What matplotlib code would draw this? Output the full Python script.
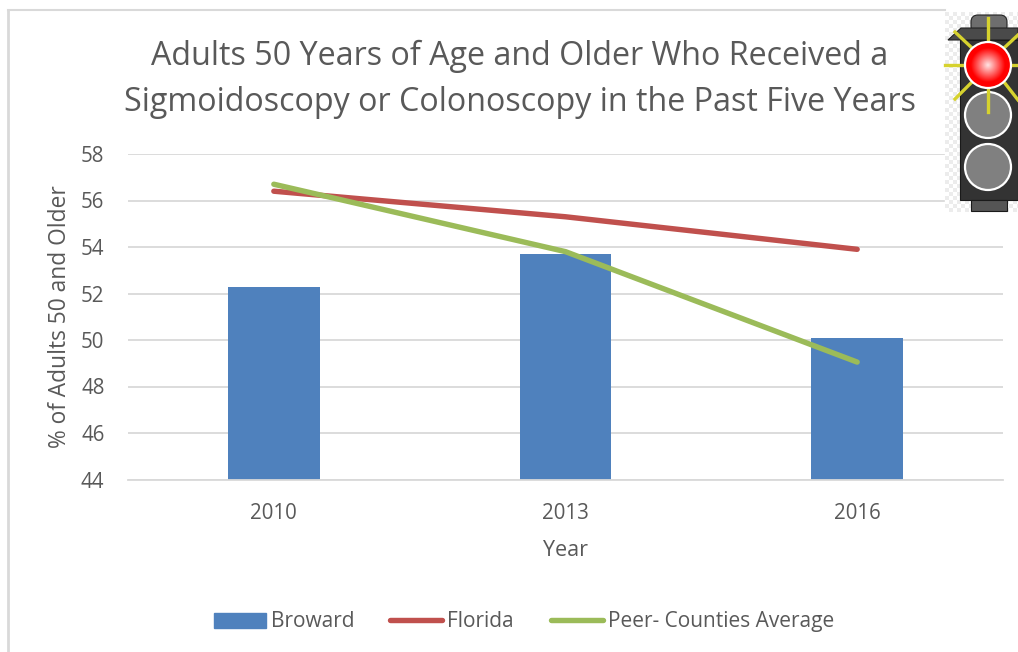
import matplotlib
matplotlib.use('Agg')
import matplotlib.pyplot as plt
from matplotlib.patches import Circle, Rectangle, Polygon, FancyBboxPatch
from matplotlib.lines import Line2D
import numpy as np

years = ['2010', '2013', '2016']
broward = [52.3, 53.7, 50.1]
florida = [56.4, 55.3, 53.9]
peer = [56.7, 53.8, 49.05]
yticks = [44, 46, 48, 50, 52, 54, 56, 58]

W, H = 1018, 652
plt.rcParams['font.family'] = ['Open Sans', 'DejaVu Sans']
text_color = '#595959'

fig = plt.figure(figsize=(W / 100, H / 100), dpi=100, facecolor='white')

# chart frame and icon live on one overlay in pixel coordinates
over = fig.add_axes([0, 0, 1, 1], zorder=3)
over.set_xlim(0, W)
over.set_ylim(H, 0)
over.axis('off')

ax = fig.add_axes([128 / W, 1 - 479.5 / H, 875 / W, 325.5 / H], zorder=2)
ax.patch.set_alpha(0)
x = np.arange(len(years))
ax.bar(x, broward, width=0.315, color='#4f81bd', zorder=2, label='Broward')
ax.plot(x, florida, color='#c0504d', lw=3.9, solid_capstyle='round', zorder=3, label='Florida')
ax.plot(x, peer, color='#9bbb59', lw=3.9, solid_capstyle='round', zorder=4, label='Peer- Counties Average')
ax.set_xlim(-0.5, 2.5)
ax.set_ylim(44, 58)
ax.set_yticks(yticks)
ax.set_xticks(x)
ax.set_xticklabels(years)
ax.grid(axis='y', color='#d9d9d9', lw=1.3, zorder=0)
ax.set_axisbelow(True)
for side in ['top', 'right', 'left']:
    ax.spines[side].set_visible(False)
ax.spines['bottom'].set_color('#d9d9d9')
ax.spines['bottom'].set_linewidth(1.3)
ax.tick_params(axis='both', length=0, labelsize=14.8, labelcolor=text_color)
ax.tick_params(axis='x', pad=17)
ax.tick_params(axis='y', pad=17)
for lab in ax.get_yticklabels():
    lab.set_verticalalignment('center_baseline')

over.plot([8, 8], [10, H], color='#d9d9d9', lw=2)
over.plot([8, 945], [10, 10], color='#d9d9d9', lw=1.5)

over.text(520, 65, 'Adults 50 Years of Age and Older Who Received a', fontsize=23.2,
          color=text_color, ha='center', va='baseline')
over.text(520, 111, 'Sigmoidoscopy or Colonoscopy in the Past Five Years', fontsize=23.2,
          color=text_color, ha='center', va='baseline')
over.text(60, 317, '% of Adults 50 and Older', fontsize=16.4, color=text_color,
          rotation=90, ha='center', va='center')
over.text(566, 556, 'Year', fontsize=15.5, color=text_color, ha='center', va='baseline')

# legend
over.add_patch(Rectangle((214, 613), 52, 15, color='#4f81bd'))
over.text(271, 627, 'Broward', fontsize=15, color=text_color, va='baseline')
over.add_line(Line2D([390, 442], [620, 620], color='#c0504d', lw=3.9, solid_capstyle='round'))
over.text(447, 627, 'Florida', fontsize=15, color=text_color, va='baseline')
over.add_line(Line2D([551, 603], [620, 620], color='#9bbb59', lw=3.9, solid_capstyle='round'))
over.text(608, 627, 'Peer- Counties Average', fontsize=15, color=text_color, va='baseline')

# traffic light icon, checker background first
over.add_patch(Rectangle((945, 12), 73, 200, color='white', zorder=1))
for i in range(19):
    for j in range(50):
        if (i + j) % 2 == 0:
            over.add_patch(Rectangle((945 + i * 4, 12 + j * 4), 4, 4, color='#ececec', lw=0, zorder=1))

over.add_patch(FancyBboxPatch((971, 15), 36, 18, boxstyle='round,pad=0,rounding_size=7',
                              fc='#6e6e6e', ec='#222222', lw=0.8, zorder=2))
over.add_patch(Polygon([[948, 40], [961, 28], [1018, 28], [1018, 40]], fc='#4a4a4a', ec='#222222', lw=0.8, zorder=3))
over.add_patch(Rectangle((960, 40), 58, 160, fc='#333333', ec='#1a1a1a', lw=0.8, zorder=3))
over.add_patch(Rectangle((971, 200), 36, 11, fc='#555555', ec='#1a1a1a', lw=0.8, zorder=3))

ray_color = '#d6d22e'
rays = [[(988, 18), (988, 45)], [(955, 32), (972, 48)], [(945, 65), (966, 65)], [(955, 99), (972, 82)],
        [(1018, 35), (1004, 48)], [(1018, 65), (1010, 65)], [(1018, 100), (1004, 82)]]
for p0, p1 in rays:
    over.add_line(Line2D([p0[0], p1[0]], [p0[1], p1[1]], color=ray_color, lw=2.4, zorder=5))

for cy in [115, 167]:
    over.add_patch(Circle((988, cy), 23, fc='#808080', ec='white', lw=1.6, zorder=4))
over.add_line(Line2D([988, 988], [86, 112], color=ray_color, lw=2.4, zorder=5))

# red lamp as a radial gradient
yy, xx = np.mgrid[-1:1:120j, -1:1:120j]
r = np.clip(np.hypot(xx, yy), 0, 1)
lamp = np.ones((120, 120, 3))
lamp[..., 1] = np.clip(0.9 - r * 1.2, 0, 1)
lamp[..., 2] = np.clip(0.9 - r * 1.2, 0, 1)
im = over.imshow(lamp, extent=(965, 1011, 88, 42), zorder=6, aspect='auto')
clip = Circle((988, 65), 23, transform=over.transData)
im.set_clip_path(clip)
over.add_patch(Circle((988, 65), 23, fc='none', ec='white', lw=1.6, zorder=7))
over.set_xlim(0, W)
over.set_ylim(H, 0)

fig.savefig('out.png', dpi=100)
